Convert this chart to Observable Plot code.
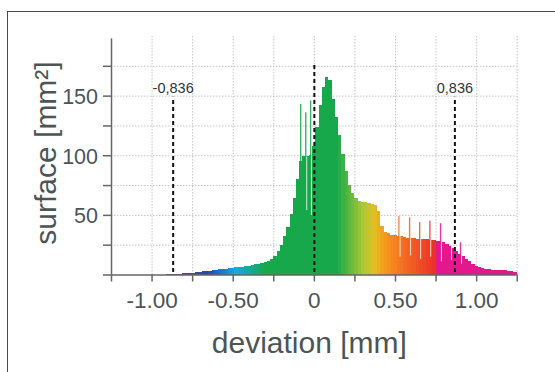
<!DOCTYPE html>
<html><head><meta charset="utf-8">
<script src="https://cdn.jsdelivr.net/npm/d3@7"></script>
<script src="https://cdn.jsdelivr.net/npm/@observablehq/plot@0.6"></script>
<style>
html,body{margin:0;padding:0;background:#fff;}
#wrap{position:relative;width:555px;height:372px;overflow:hidden;}
#frame{position:absolute;left:7px;top:11px;width:600px;height:400px;border-left:1.5px solid #4a4a4a;border-top:1.5px solid #4a4a4a;pointer-events:none;}
g[aria-label="xlabels"]{letter-spacing:1px;}
</style></head><body><div id="wrap"></div>
<script>
// histogram bins: regular grid of deviation [mm]
const binStart = -0.91;
const binWidth = 0.02;
// surface [mm²] per bin
const surface = [
  0.2, 0.3, 0.5, 0.6, 0.8, 0.9, 1.0, 1.2, 1.5, 1.8,
  2.2, 2.6, 3.0, 3.2, 3.5, 3.9, 4.3, 4.7, 5.0, 5.3,
  5.6, 5.9, 6.2, 6.5, 7.0, 7.5, 8.1, 8.6, 9.0, 9.8,
  10.5, 11.5, 13, 15.5, 20, 25, 32, 40, 51, 64,
  80, 95, 99, 99, 100, 108, 124, 142, 157, 166,
  163, 147, 132, 117, 101, 87, 75, 68, 64, 62,
  61, 60.5, 60, 59.5, 58, 53, 41, 35.5, 34.5, 33.5,
  33, 32.5, 32, 31.5, 31, 30.5, 30.5, 30, 30, 29.5,
  29.5, 29, 29, 28.5, 28, 27, 25.5, 24, 22, 20,
  17.5, 15.5, 13, 11, 9, 7.5, 6, 5.2, 4.6, 4.2,
  3.8, 3.8, 4, 4, 3.6, 3, 2.6, 2
];
// isolated high bins (spikes)
const spikeX = [-0.084, -0.053, -0.023, 0.521, 0.587, 0.649, 0.712, 0.778, 0.901];
const spikeY = [143, 136, 146, 49, 48, 44, 45, 43, 27];
// low bins next to spikes (white gaps), depth they reach
const gapX = [-0.047, -0.018, 0.528, 0.593, 0.655, 0.717, 0.783, 0.845, 0.907];
const gapY = [54, 50, 15, 16, 13, 15, 11, 12, 9];
// dashed markers
const markerX = [-0.87, 0, 0.866];
const markerTop = [149, 176, 149];
const markerLabel = ["-0,836", "", "0,836"];
// axes
const xTicks = [-1.25, -1.0, -0.75, -0.5, -0.25, 0, 0.25, 0.5, 0.75, 1.0, 1.25];
const xLabelTicks = [-1.0, -0.5, 0, 0.5, 1.0];
const xLabels = ["-1.00", "-0.50", "0", "0.50", "1.00"];
const yTicks = [0, 25, 50, 75, 100, 125, 150, 175];
const yLabelTicks = [50, 100, 150];
const yLabels = ["50", "100", "150"];
const xGrid = [-1.0, -0.75, -0.5, -0.25, 0, 0.25, 0.5, 0.75, 1.0, 1.25];
const yGrid = [25, 50, 75, 100, 125, 150, 175];
// colour ramp along deviation
const colorStops = [-0.92, -0.78, -0.66, -0.56, -0.48, -0.38, -0.30, 0.14, 0.22, 0.30, 0.37, 0.45, 0.56, 0.74, 0.7401, 1.26];
const colorRange = ["#8e3b9c", "#5a3ea8", "#2448b4", "#1a7cd0", "#18a8dc", "#14aa8a", "#17a84b", "#17a84b", "#5cb83e", "#a9c93a", "#e2c020", "#f7941d", "#f36a22", "#ea3327", "#e4178d", "#e4178d"];

const bins = surface.map((v, i) => ({
  x1: binStart + i * binWidth,
  x2: binStart + (i + 1) * binWidth,
  c: binStart + (i + 0.5) * binWidth,
  y: v
}));
const topAt = x => surface[Math.min(surface.length - 1, Math.max(0, Math.floor((x - binStart) / binWidth)))];
const spikes = spikeX.map((x, i) => ({x, y: spikeY[i]}));
const gaps = gapX.map((x, i) => ({x, y1: gapY[i], y2: topAt(x)}));
const markers = markerX.map((x, i) => ({x, top: markerTop[i], label: markerLabel[i]}));
const xLab = xLabelTicks.map((x, i) => ({x, t: xLabels[i]}));
const yLab = yLabelTicks.map((y, i) => ({y, t: yLabels[i]}));

const gridStyle = {stroke: "#c6c6c6", strokeOpacity: 1, strokeWidth: 1, strokeDasharray: "1.5,1.5"};
const ink = "#4c5456";

const chart = Plot.plot({
  width: 555, height: 372,
  marginLeft: 111, marginRight: 38.3, marginTop: 36, marginBottom: 97.5,
  style: {fontFamily: "'Liberation Sans', Arial, sans-serif", color: ink, background: "transparent", overflow: "visible"},
  x: {domain: [-1.25, 1.25]},
  y: {domain: [0, 200]},
  color: {type: "linear", domain: colorStops, range: colorRange, interpolate: "rgb", clamp: true},
  marks: [
    Plot.gridX(xGrid, gridStyle),
    Plot.gridY(yGrid, gridStyle),
    Plot.rect(bins, {x1: "x1", x2: "x2", y1: 0, y2: "y", fill: "c", shapeRendering: "crispEdges"}),
    Plot.ruleX(spikes, {x: "x", y1: 0, y2: "y", stroke: "x", strokeWidth: 1.4, strokeOpacity: 0.85}),
    Plot.ruleX(gaps, {x: "x", y1: "y1", y2: "y2", stroke: "white", strokeWidth: 1, strokeOpacity: 0.8}),
    Plot.ruleX(markers, {x: "x", y1: 2, y2: "top", stroke: "#111", strokeWidth: 2, strokeDasharray: "4,3"}),
    Plot.text(markers, {x: "x", text: "label", frameAnchor: "top", dy: 56.5, lineAnchor: "bottom", fontSize: 14.5, fill: "#333"}),
    Plot.ruleY([0], {stroke: "#666", strokeWidth: 1.5}),
    Plot.ruleX([-1.25], {y1: 0, y2: 198, stroke: "#666", strokeWidth: 1.5}),
    Plot.axisX(xTicks, {tickFormat: () => "", tickSize: 7, strokeWidth: 1.5, stroke: "#666", label: null}),
    Plot.axisY(yTicks, {tickFormat: () => "", tickSize: 8, strokeWidth: 1.5, stroke: "#666", label: null}),
    Plot.text(xLab, {x: "x", text: "t", frameAnchor: "bottom", dy: 33, lineAnchor: "bottom", fontSize: 22.5, fill: ink, ariaLabel: "xlabels"}),
    Plot.text(yLab, {y: "y", text: "t", frameAnchor: "left", textAnchor: "end", dx: -13.5, lineAnchor: "bottom", dy: 7.8, fontSize: 21.5, fill: ink}),
    Plot.text(["deviation [mm]"], {frameAnchor: "bottom", dy: 77.5, dx: -5, lineAnchor: "bottom", fontSize: 30, fill: ink}),
    Plot.text(["surface [mm²]"], {frameAnchor: "left", textAnchor: "middle", dx: -55.5, dy: -2.75, rotate: -90, lineAnchor: "bottom", fontSize: 30, fill: ink})
  ]
});
const wrap = document.getElementById("wrap");
wrap.appendChild(chart);
const frame = document.createElement("div");
frame.id = "frame";
wrap.appendChild(frame);
</script>
</body></html>
